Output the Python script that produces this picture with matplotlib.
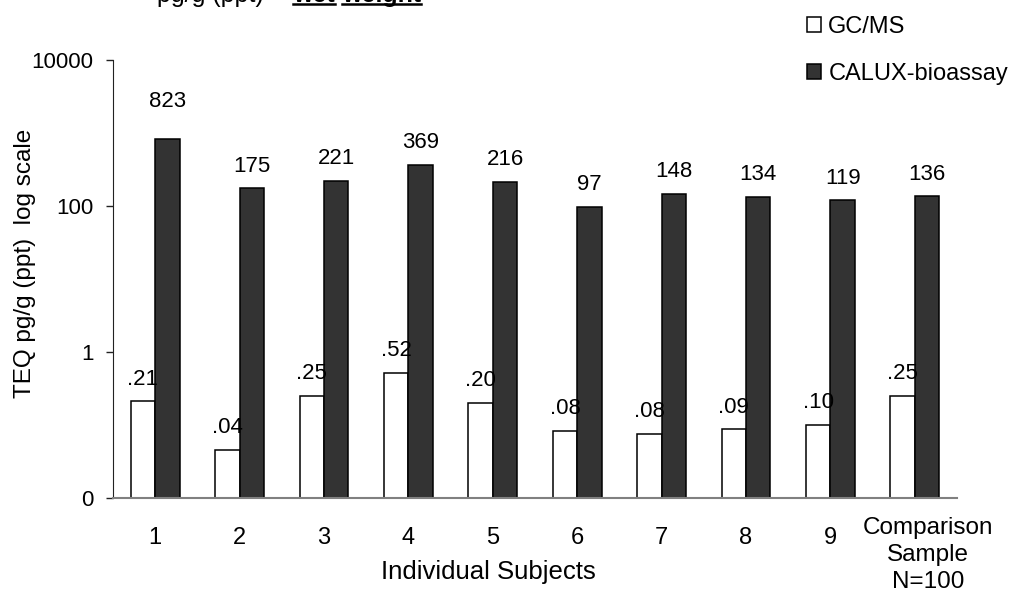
import numpy as np
import matplotlib
matplotlib.use("Agg")
import matplotlib.pyplot as plt
from matplotlib.lines import Line2D
from matplotlib.ticker import FixedLocator, FuncFormatter, NullLocator

plt.rcParams['font.family'] = ['Liberation Sans', 'DejaVu Sans']

# values
categories = ['1', '2', '3', '4', '5', '6', '7', '8', '9', 'Comparison\nSample\nN=100']
gcms = [0.21, 0.046, 0.25, 0.52, 0.20, 0.084, 0.075, 0.087, 0.10, 0.25]
calux = [823, 175, 221, 369, 216, 97, 148, 134, 119, 136]
gcms_labels = ['.21', '.04', '.25', '.52', '.20', '.08', '.08', '.09', '.10', '.25']
calux_labels = ['823', '175', '221', '369', '216', '97', '148', '134', '119', '136']
y_ticks = [0.01, 1, 100, 10000]
series_names = ['GC/MS', 'CALUX-bioassay']

W, H = 1015, 604
fig = plt.figure(figsize=(W / 100, H / 100), dpi=100)
ax = fig.add_axes([113 / W, 1 - 498 / H, 844 / W, 438 / H])

x = np.arange(len(categories))
bw = 0.29
gc_bars = ax.bar(x - bw / 2, gcms, bw, color='white', edgecolor='black', linewidth=1.1)
cx_bars = ax.bar(x + bw / 2, calux, bw, color='#333333', edgecolor='black', linewidth=1.1)

ax.set_yscale('log')
ax.set_ylim(0.01, 10000)
ax.set_xlim(-0.5, len(categories) - 0.5)
ax.yaxis.set_major_locator(FixedLocator(y_ticks))
ax.yaxis.set_minor_locator(NullLocator())
ax.yaxis.set_major_formatter(FuncFormatter(lambda v, p: f"{v:.0f}"))

# value labels above bars; the first CALUX label sits a bit higher
lift = {0: 11}
for i in range(len(categories)):
    ax.annotate(gcms_labels[i], (x[i] - bw / 2, gcms[i]), xytext=(0, 16),
                textcoords='offset points', ha='center', va='center', fontsize=16)
    ax.annotate(calux_labels[i], (x[i] + bw / 2, calux[i]), xytext=(0, 16 + lift.get(i, 0)),
                textcoords='offset points', ha='center', va='center', fontsize=16)

for s in ['top', 'right']:
    ax.spines[s].set_visible(False)
ax.spines['left'].set_color('#222222')
ax.spines['bottom'].set_color('#808080')
ax.spines['bottom'].set_linewidth(1.5)

ax.tick_params(axis='y', direction='out', length=5, width=1, pad=9, labelsize=16, color='#222222')
ax.tick_params(axis='x', length=0, pad=21, labelsize=17)
ax.set_xticks(x[:-1], categories[:-1])
ax.annotate(categories[-1], xy=(x[-1], 0), xycoords=('data', 'axes fraction'),
            xytext=(9.5, -14), textcoords='offset points', ha='center', va='top',
            fontsize=17.5, linespacing=1.27)

ax.text(3.95, -0.169, 'Individual Subjects', transform=ax.get_xaxis_transform(),
        ha='center', va='center', fontsize=18.5)
fig.text(25 / W, 1 - 263 / H, 'TEQ pg/g (ppt)  log scale', rotation=90,
         ha='center', va='center', fontsize=17.5)

# title, mostly cut off at the top edge
fig.text(157 / W, 1 - 2 / H, 'pg/g (ppt)', fontsize=18, va='baseline')
t1 = fig.text(293 / W, 1 - 2 / H, 'wet', fontsize=18, va='baseline', fontweight='bold')
t2 = fig.text(342 / W, 1 - 2 / H, 'weight', fontsize=18, va='baseline', fontweight='bold')
fig.canvas.draw()
r = fig.canvas.get_renderer()
for t in (t1, t2):
    bb = t.get_window_extent(r)
    fig.add_artist(Line2D([bb.x0 / W, bb.x1 / W], [1 - 4 / H, 1 - 4 / H],
                          transform=fig.transFigure, color='black', linewidth=1.8))

fig.legend([gc_bars, cx_bars], series_names, loc='upper left',
           bbox_to_anchor=(807 / W, 1 - 16 / H), frameon=False, fontsize=17,
           handlelength=0.6, handleheight=0.6, handletextpad=0.3,
           labelspacing=1.05, borderpad=0, borderaxespad=0)

fig.savefig('out.png', dpi=100)
